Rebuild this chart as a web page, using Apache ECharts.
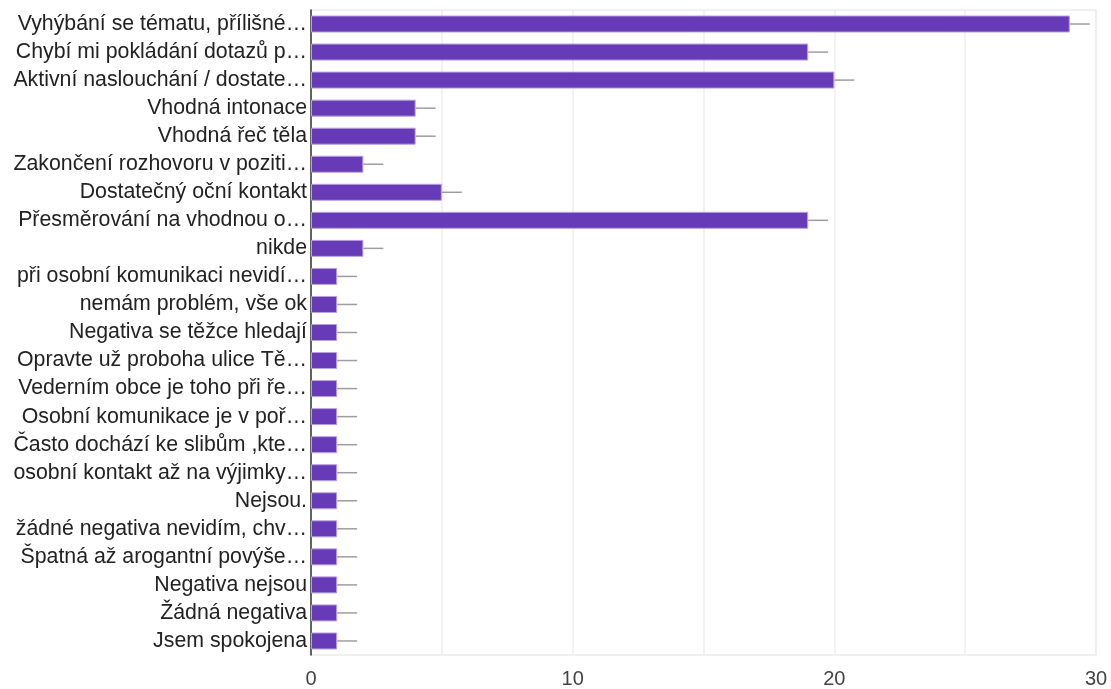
<!DOCTYPE html>
<html>
<head>
<meta charset="utf-8">
<script src="https://cdn.jsdelivr.net/npm/echarts@6/dist/echarts.min.js"></script>
<style>
  html, body { margin: 0; padding: 0; background: #fff; }
  #chart { width: 1111px; height: 689px; }
</style>
</head>
<body>
<div id="chart"></div>
<script>
// Answer labels (shortened as displayed) and response counts
const categories = [
  'Vyhýbání se tématu, přílišné…',
  'Chybí mi pokládání dotazů p…',
  'Aktivní naslouchání / dostate…',
  'Vhodná intonace',
  'Vhodná řeč těla',
  'Zakončení rozhovoru v poziti…',
  'Dostatečný oční kontakt',
  'Přesměrování na vhodnou o…',
  'nikde',
  'při osobní komunikaci nevidí…',
  'nemám problém, vše ok',
  'Negativa se těžce hledají',
  'Opravte už proboha ulice Tě…',
  'Vederním obce je toho při ře…',
  'Osobní komunikace je v poř…',
  'Často dochází ke slibům ,kte…',
  'osobní kontakt až na výjimky…',
  'Nejsou.',
  'žádné negativa nevidím, chv…',
  'Špatná až arogantní povýše…',
  'Negativa nejsou',
  'Žádná negativa',
  'Jsem spokojena'
];
const counts = [29, 19, 20, 4, 4, 2, 5, 19, 2, 1, 1, 1, 1, 1, 1, 1, 1, 1, 1, 1, 1, 1, 1];
const xTicks = [0, 10, 20, 30];

const FONT = '"Liberation Sans", Arial, sans-serif';
const chart = echarts.init(document.getElementById('chart'));

chart.setOption({
  backgroundColor: '#ffffff',
  animation: false,
  grid: {
    left: 311, right: 15, top: 10, bottom: 33,
    show: true, borderColor: '#ebebeb', borderWidth: 1.5, backgroundColor: 'transparent'
  },
  xAxis: {
    type: 'value',
    min: 0, max: 30, interval: 5,
    axisLine: { show: false },
    axisTick: { show: false },
    splitLine: { show: true, lineStyle: { color: '#eeeeee', width: 1.5 } },
    axisLabel: {
      margin: 14,
      color: '#444',
      fontSize: 20,
      fontFamily: FONT,
      formatter: v => (xTicks.indexOf(v) >= 0 ? String(v) : '')
    }
  },
  yAxis: {
    type: 'category',
    inverse: true,
    data: categories,
    axisLine: { show: true, lineStyle: { color: '#333', width: 1.5 } },
    axisTick: { show: false },
    splitLine: { show: false },
    axisLabel: {
      margin: 4,
      color: '#222',
      fontSize: 21.3,
      fontFamily: FONT,
      padding: [5, 0, 0, 0]
    }
  },
  series: [
    {
      type: 'bar',
      data: counts,
      barWidth: 17,
      itemStyle: { color: '#673ab7', borderColor: '#b7a2e0', borderWidth: 1 },
      z: 3
    },
    {
      // short grey leader at the end of each bar
      type: 'custom',
      data: counts.map((v, i) => [v, i]),
      encode: { x: 0, y: 1 },
      renderItem: (params, api) => {
        const p = api.coord([api.value(0), api.value(1)]);
        return {
          type: 'line',
          shape: { x1: p[0], y1: p[1], x2: p[0] + 20, y2: p[1] },
          style: { stroke: '#9e9e9e', lineWidth: 1.5 }
        };
      },
      z: 2,
      silent: true
    }
  ]
});
</script>
</body>
</html>
